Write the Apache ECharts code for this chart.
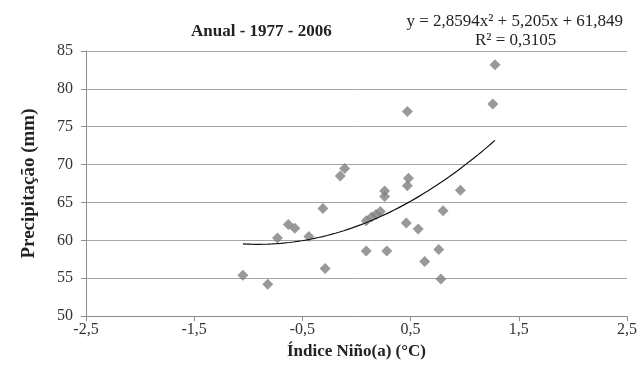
<!DOCTYPE html>
<html>
<head>
<meta charset="utf-8">
<script src="https://cdn.jsdelivr.net/npm/echarts@6/dist/echarts.min.js"></script>
<style>
  html, body { margin: 0; padding: 0; background: #fff; }
  #chart { width: 640px; height: 365px; }
</style>
</head>
<body>
<div id="chart"></div>
<script>
// Annual Niño index (°C) vs. precipitation (mm), 1977–2006
var ninoIndex = [1.28, 1.26, 0.47, -0.11, -0.15, 0.48, 0.47, 0.26, 0.26, 0.96,
                 -0.31, 0.80, 0.22, 0.18, 0.14, 0.09, -0.63, -0.57, 0.46, 0.57,
                 -0.73, -0.44, 0.09, 0.28, 0.76, 0.63, -0.29, -1.05, -0.82, 0.78];
var precipitation = [83.2, 78.0, 77.0, 69.5, 68.5, 68.2, 67.2, 66.5, 65.8, 66.6,
                     64.2, 63.9, 63.8, 63.4, 63.1, 62.6, 62.1, 61.6, 62.3, 61.5,
                     60.3, 60.5, 58.6, 58.6, 58.8, 57.2, 56.3, 55.4, 54.2, 54.9];

// Second-order polynomial trend: y = a·x² + b·x + c
var trendCoef = [2.8594, 5.205, 61.849];
var xTicks = [-2.5, -1.5, -0.5, 0.5, 1.5, 2.5];

var points = ninoIndex.map(function (x, i) { return [x, precipitation[i]]; });

var xMin = Math.min.apply(null, ninoIndex);
var xMax = Math.max.apply(null, ninoIndex);
var trend = [];
for (var k = 0; k <= 60; k++) {
  var x = xMin + (xMax - xMin) * k / 60;
  trend.push([x, trendCoef[0] * x * x + trendCoef[1] * x + trendCoef[2]]);
}

function comma(v) { return String(v).replace('.', ','); }

var serif = '"Liberation Serif", "Times New Roman", serif';
var chart = echarts.init(document.getElementById('chart'));
chart.setOption({
  animation: false,
  backgroundColor: '#fff',
  textStyle: { fontFamily: serif },
  title: {
    text: 'Anual - 1977 - 2006',
    left: 186,
    top: 18,
    textStyle: { fontFamily: serif, fontSize: 17, fontWeight: 'bold', color: '#222' }
  },
  graphic: [
    {
      type: 'text', right: 17, top: 13,
      style: { text: 'y = 2,8594x² + 5,205x + 61,849', fontFamily: serif, fontSize: 17, fill: '#222' }
    },
    {
      type: 'text', left: 475, top: 32,
      style: { text: 'R² = 0,3105', fontFamily: serif, fontSize: 17, fill: '#222' }
    }
  ],
  grid: { left: 86, right: 11, top: 51, bottom: 47 },
  xAxis: {
    type: 'value',
    min: xTicks[0],
    max: xTicks[xTicks.length - 1],
    interval: 1,
    name: 'Índice Niño(a) (°C)',
    nameLocation: 'middle',
    nameGap: 24,
    nameTextStyle: { fontFamily: serif, fontSize: 17, fontWeight: 'bold', color: '#222' },
    axisLine: { onZero: false, lineStyle: { color: '#8c8c8c', width: 1 } },
    axisTick: { show: true, length: 5, lineStyle: { color: '#8c8c8c' } },
    axisLabel: { fontFamily: serif, fontSize: 16, color: '#333', margin: 6, formatter: comma },
    splitLine: { show: false }
  },
  yAxis: {
    type: 'value',
    min: 50,
    max: 85,
    interval: 5,
    name: 'Precipitação (mm)',
    nameLocation: 'middle',
    nameGap: 47,
    nameTextStyle: { fontFamily: serif, fontSize: 19, fontWeight: 'bold', color: '#222' },
    axisLine: { show: true, onZero: false, lineStyle: { color: '#8c8c8c', width: 1 } },
    axisTick: { show: true, length: 5, lineStyle: { color: '#8c8c8c' } },
    axisLabel: { fontFamily: serif, fontSize: 16, color: '#333', margin: 13 },
    splitLine: { show: true, lineStyle: { color: '#a6a6a6', width: 1 } }
  },
  series: [
    {
      type: 'scatter',
      data: points,
      symbol: 'diamond',
      symbolSize: 11,
      itemStyle: { color: '#7f7f7f' },
      z: 3
    },
    {
      type: 'line',
      data: trend,
      showSymbol: false,
      smooth: false,
      lineStyle: { color: '#111', width: 1.2 },
      z: 4
    }
  ]
});
</script>
</body>
</html>
